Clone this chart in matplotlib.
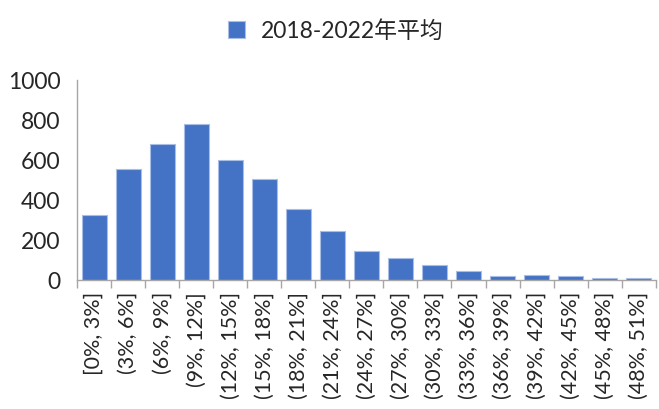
import matplotlib
matplotlib.use("Agg")
import matplotlib.pyplot as plt
import numpy as np

plt.rcParams['font.family'] = ['Lato', 'Noto Sans CJK SC', 'DejaVu Sans']

# 收益区间分布
bins = ['[0%, 3%]', '(3%, 6%]', '(6%, 9%]', '(9%, 12%]', '(12%, 15%]', '(15%, 18%]',
        '(18%, 21%]', '(21%, 24%]', '(24%, 27%]', '(27%, 30%]', '(30%, 33%]',
        '(33%, 36%]', '(36%, 39%]', '(39%, 42%]', '(42%, 45%]', '(45%, 48%]', '(48%, 51%]']
avg_counts = [323, 553, 680, 777, 597, 503, 352, 243, 145, 108, 72, 43, 17, 23, 17, 7, 7]
series_name = '2018-2022年平均'

txt = '#262626'
blue = '#4472C4'

fig = plt.figure(figsize=(6.59, 4.10), dpi=100)
ax = fig.add_axes([0.117, 0.315, 0.878, 0.488])

x = np.arange(len(bins))
ax.bar(x, avg_counts, width=0.74, color=blue, edgecolor='#A9BEE6', linewidth=0.8,
       label=series_name, zorder=2)

ax.set_xlim(-0.5, len(bins) - 0.5)
ax.set_ylim(0, 1000)
ax.set_yticks(range(0, 1001, 200))
ax.tick_params(axis='y', length=0, labelsize=16.5, colors=txt, pad=12)

ax.set_xticks(x)
ax.set_xticklabels(bins, rotation=90, fontsize=15.5, color=txt)
ax.set_xticks(np.arange(-0.5, len(bins)), minor=True)
ax.tick_params(axis='x', which='major', length=0, pad=8)
ax.tick_params(axis='x', which='minor', length=6, width=1, color='#A6A6A6')

for s in ['top', 'right']:
    ax.spines[s].set_visible(False)
for s in ['left', 'bottom']:
    ax.spines[s].set_color('#A6A6A6')
    ax.spines[s].set_linewidth(1)

leg = fig.legend(loc='upper center', bbox_to_anchor=(0.51, 1.0), frameon=False,
                 fontsize=16.5, handlelength=0.75, handleheight=0.75, handletextpad=0.7)
for t in leg.get_texts():
    t.set_color(txt)

fig.savefig('out.png', dpi=100)
